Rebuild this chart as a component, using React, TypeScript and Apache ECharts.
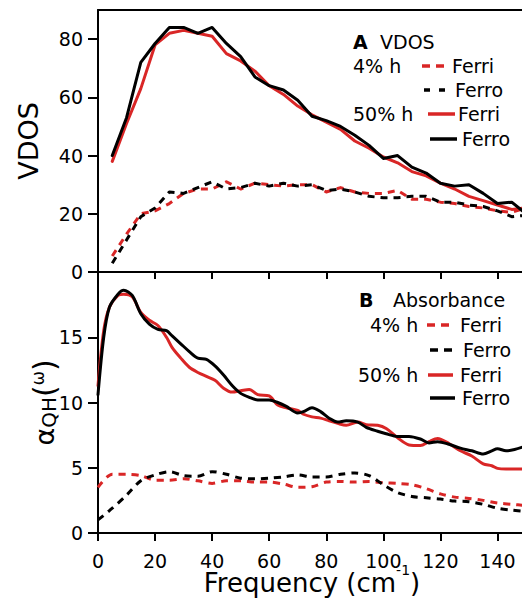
import React, { useEffect, useRef } from 'react';
import * as echarts from 'echarts';

const FONT = '"DejaVu Sans", "Liberation Sans", sans-serif';
const RED = '#d92626';
const BLACK = '#000000';

// ---- Panel A: VDOS (x = 5..150 step 5) ----
const vdosX = [5, 10, 15, 20, 25, 30, 35, 40, 45, 50, 55, 60, 65, 70, 75, 80, 85, 90, 95, 100, 105, 110, 115, 120, 125, 130, 135, 140, 145, 150];
const vdosFerri4 = [5.5, 13, 20, 21, 23.5, 27, 28.5, 28.5, 31, 28.5, 30.5, 30, 29.5, 30, 30, 27.5, 29, 27.5, 27, 27, 28, 25, 25, 24, 23.5, 22.5, 22, 21, 20.5, 22];
const vdosFerro4 = [3, 11, 19, 22, 27.5, 27, 29, 31, 28.5, 29, 30.5, 29.5, 30.5, 29.5, 30, 28, 28.5, 27.5, 26, 25.5, 25.5, 26, 26, 24, 24, 23, 22.5, 21, 19, 19.5];
const vdosFerri50 = [38, 51, 63, 78, 82, 83, 82, 81, 75, 72.5, 69, 64, 61, 57, 54, 51.5, 49, 45, 42.5, 39.5, 37.5, 34.5, 33, 30.5, 28.5, 26, 24.5, 23, 21.5, 22];
const vdosFerro50 = [40, 53, 72, 78.5, 84, 84, 82, 84, 78.5, 74, 67, 64, 62.5, 59, 53.5, 52, 50, 47, 43.5, 39, 40, 36, 34, 30.5, 29.5, 30, 27, 23.5, 24, 20];

// ---- Panel B: Absorbance ----
const absX4 = [0, 5, 10, 15, 20, 25, 30, 35, 40, 45, 50, 55, 60, 65, 70, 75, 80, 85, 90, 95, 100, 105, 110, 115, 120, 125, 130, 135, 140, 145, 150];
const absFerri4 = [3.5, 4.5, 4.5, 4.4, 4.05, 4.05, 4.15, 4.0, 3.8, 4.0, 4.0, 3.9, 3.9, 3.75, 3.5, 3.55, 3.9, 3.95, 3.9, 3.95, 3.85, 3.8, 3.7, 3.4, 3.0, 2.75, 2.65, 2.5, 2.3, 2.2, 2.1];
const absFerro4 = [1.0, 1.9, 2.9, 4.0, 4.45, 4.7, 4.4, 4.35, 4.7, 4.5, 4.2, 4.15, 4.2, 4.3, 4.45, 4.3, 4.3, 4.5, 4.6, 4.4, 3.7, 3.1, 2.8, 2.7, 2.6, 2.45, 2.4, 2.2, 1.9, 1.75, 1.65];
const absX50 = [0, 2, 4, 7, 9, 12, 15, 18, 21, 24, 26, 29, 32, 35, 38, 41, 44, 47, 50, 53, 56, 60, 63, 66, 70, 72, 75, 78, 81, 84, 87, 91, 94, 98, 101, 105, 109, 113, 116, 119, 123, 127, 131, 135, 138, 140, 143, 146, 149];
const absFerri50 = [11.3, 15.5, 17.3, 18.2, 18.3, 18.1, 16.9, 16.3, 15.9, 15.0, 14.2, 13.4, 12.7, 12.3, 12.0, 11.7, 11.1, 10.8, 10.9, 11.0, 10.6, 10.5, 9.8, 9.6, 9.4, 9.1, 8.9, 8.8, 8.6, 8.4, 8.25, 8.5, 8.3, 8.25, 8.0, 7.3, 6.75, 6.7, 7.0, 7.25, 6.85, 6.3, 5.9, 5.3, 5.15, 4.95, 4.9, 4.9, 4.9];
const absFerro50 = [10.6, 15, 17.3, 18.3, 18.6, 18.2, 16.8, 16.0, 15.6, 15.5, 15.1, 14.5, 13.9, 13.4, 13.3, 12.8, 12.1, 11.3, 10.7, 10.4, 10.2, 10.2, 10.0, 9.7, 9.2, 9.3, 9.6, 9.3, 8.8, 8.5, 8.6, 8.5, 8.1, 7.8, 7.6, 7.4, 7.4, 7.2, 6.9, 7.0, 6.8, 6.5, 6.3, 6.05, 6.3, 6.45, 6.3, 6.4, 6.6];

// ---- Ticks ----
const xTicks = [0, 20, 40, 60, 80, 100, 120, 140];
const vdosTicks = [0, 20, 40, 60, 80];
const absTicks = [0, 5, 10, 15];

const pairs = (xs: number[], ys: number[]) => xs.map((x, i) => [x, ys[i]]);

const DASH = [7, 6];

function App() {
  const ref = useRef<HTMLDivElement>(null);
  useEffect(() => {
    if (!ref.current) return;
    const chart = echarts.init(ref.current, null, { renderer: 'svg' });
    const axisLine = { show: true, lineStyle: { color: BLACK, width: 2 } };
    const tickStyle = { color: BLACK, width: 2 };
    const labelStyle = { color: BLACK, fontSize: 19, fontFamily: FONT };

    const lineSeries = (name: string, x: number, data: number[][], color: string, dashed: boolean, smooth: number) => ({
      name,
      type: 'line',
      xAxisIndex: x,
      yAxisIndex: x,
      data,
      showSymbol: false,
      symbol: 'none',
      smooth,
      clip: true,
      lineStyle: { color, width: 3, type: dashed ? DASH : 'solid', cap: dashed ? 'butt' : 'round', join: 'round' },
      z: dashed ? 2 : 3,
    });

    const legendText = (text: string, x: number, y: number, bold = false) => ({
      type: 'text',
      x,
      y,
      style: {
        text,
        fill: BLACK,
        fontSize: 19,
        fontFamily: FONT,
        fontWeight: bold ? 'bold' : 'normal',
        align: 'left',
        verticalAlign: 'middle',
      },
    });
    const legendLine = (x1: number, x2: number, y: number, color: string, dash: number[] | null) => ({
      type: 'line',
      shape: { x1, y1: y, x2, y2: y },
      style: { stroke: color, lineWidth: 3.5, lineDash: dash || undefined },
    });

    chart.setOption({
      animation: false,
      backgroundColor: '#ffffff',
      grid: [
        { left: 98, right: -4, top: 10, bottom: 327, containLabel: false, outerBoundsMode: 'none' },
        { left: 98, right: -4, top: 272, bottom: 66, containLabel: false, outerBoundsMode: 'none' },
      ],
      xAxis: [
        {
          gridIndex: 0, type: 'value', min: 0, max: 150, position: 'bottom',
          axisLine, axisTick: { show: true, inside: false, length: 7, lineStyle: tickStyle, customValues: xTicks },
          axisLabel: { show: false }, splitLine: { show: false },
        },
        {
          gridIndex: 1, type: 'value', min: 0, max: 150, position: 'bottom',
          axisLine, axisTick: { show: true, inside: false, length: 8, lineStyle: tickStyle, customValues: xTicks },
          axisLabel: { ...labelStyle, margin: 18, customValues: xTicks },
          splitLine: { show: false },
          name: 'Frequency (cm{sup|-1})',
          nameLocation: 'middle',
          nameGap: 27,
          nameMoveOverlap: false,
          nameTextStyle: {
            color: BLACK, fontSize: 26, fontFamily: FONT, lineHeight: 46,
            rich: { sup: { fontSize: 14, lineHeight: 14, padding: [3, 0, 0, 0], verticalAlign: 'top', fontFamily: FONT, color: BLACK } },
          },
        },
        {
          gridIndex: 0, type: 'value', min: 0, max: 150, position: 'top',
          axisLine, axisTick: { show: false }, axisLabel: { show: false }, splitLine: { show: false },
        },
      ],
      yAxis: [
        {
          gridIndex: 0, type: 'value', min: 0, max: 90,
          axisLine, axisTick: { show: true, length: 10, lineStyle: tickStyle, customValues: vdosTicks },
          axisLabel: { ...labelStyle, margin: 15, customValues: vdosTicks },
          splitLine: { show: false },
          name: 'VDOS', nameLocation: 'middle', nameRotate: 90, nameGap: 56, nameMoveOverlap: false,
          nameTextStyle: { color: BLACK, fontSize: 27, fontFamily: FONT },
        },
        {
          gridIndex: 1, type: 'value', min: 0, max: 20,
          axisLine, axisTick: { show: true, length: 10, lineStyle: tickStyle, customValues: absTicks },
          axisLabel: { ...labelStyle, margin: 15, customValues: absTicks },
          splitLine: { show: false },
          name: '{a|α}{s|QH}{p|(}{w|ω}{p|)}', nameLocation: 'middle', nameRotate: 90, nameGap: 39, nameMoveOverlap: false,
          nameTextStyle: {
            color: BLACK, fontFamily: FONT, lineHeight: 40,
            rich: {
              a: { fontSize: 27, lineHeight: 27, fontFamily: FONT, color: BLACK, verticalAlign: 'middle' },
              s: { fontSize: 20, lineHeight: 30, fontFamily: FONT, color: BLACK, verticalAlign: 'bottom' },
              p: { fontSize: 30, lineHeight: 30, fontFamily: FONT, color: BLACK, verticalAlign: 'middle' },
              w: { fontSize: 17, lineHeight: 17, fontFamily: FONT, color: BLACK, verticalAlign: 'top' },
            },
          },
        },
      ],
      series: [
        lineSeries('VDOS 4% h Ferri', 0, pairs(vdosX, vdosFerri4), RED, true, 0),
        lineSeries('VDOS 4% h Ferro', 0, pairs(vdosX, vdosFerro4), BLACK, true, 0),
        lineSeries('VDOS 50% h Ferri', 0, pairs(vdosX, vdosFerri50), RED, false, 0),
        lineSeries('VDOS 50% h Ferro', 0, pairs(vdosX, vdosFerro50), BLACK, false, 0),
        lineSeries('Absorbance 4% h Ferri', 1, pairs(absX4, absFerri4), RED, true, 0.3),
        lineSeries('Absorbance 4% h Ferro', 1, pairs(absX4, absFerro4), BLACK, true, 0.3),
        lineSeries('Absorbance 50% h Ferri', 1, pairs(absX50, absFerri50), RED, false, 0.3),
        lineSeries('Absorbance 50% h Ferro', 1, pairs(absX50, absFerro50), BLACK, false, 0.3),
      ],
      graphic: [
        legendText('A', 353, 42, true),
        legendText('VDOS', 380, 42),
        legendText('4% h', 353, 66),
        legendLine(422, 445, 66, RED, [8, 6]),
        legendText('Ferri', 452, 66),
        legendLine(424, 447, 90, BLACK, [6, 9]),
        legendText('Ferro', 455, 90),
        legendText('50% h', 353, 114),
        legendLine(428, 455, 114, RED, null),
        legendText('Ferri', 458, 114),
        legendLine(430, 457, 139, BLACK, null),
        legendText('Ferro', 462, 139),

        legendText('B', 359, 300, true),
        legendText('Absorbance', 393, 300),
        legendText('4% h', 370, 325),
        legendLine(427, 450, 325, RED, [8, 6]),
        legendText('Ferri', 460, 325),
        legendLine(430, 452, 350, BLACK, [8, 6]),
        legendText('Ferro', 463, 350),
        legendText('50% h', 358, 375),
        legendLine(428, 453, 375, RED, null),
        legendText('Ferri', 460, 375),
        legendLine(430, 455, 398, BLACK, null),
        legendText('Ferro', 462, 398),
      ],
    });
    return () => chart.dispose();
  }, []);
  return (
    <div
      ref={ref}
      style={{ position: 'absolute', left: 0, top: 0, width: 522, height: 599, background: '#fff' }}
    />
  );
}

export default App;
